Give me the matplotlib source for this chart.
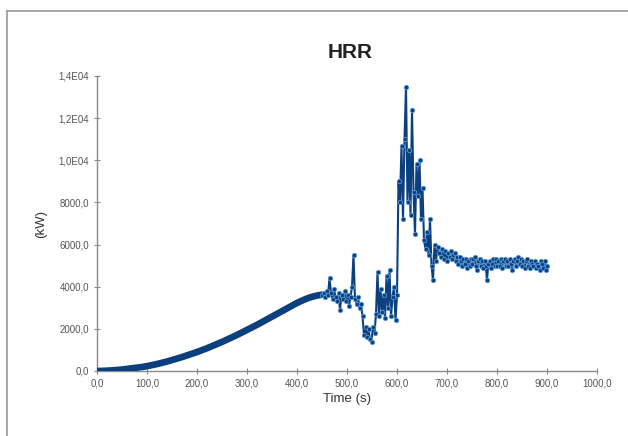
import matplotlib
matplotlib.use("Agg")
import matplotlib.pyplot as plt
from matplotlib.lines import Line2D
import numpy as np

plt.rcParams['font.family'] = ['Liberation Sans', 'DejaVu Sans']

# Growth phase (s, kW), sampled every 10 s
t_growth = list(range(0, 451, 10))
hrr_growth = [0, 5, 15, 30, 50, 70, 100, 130, 160, 190, 230, 280, 330, 390, 450, 520,
              590, 660, 740, 820, 900, 990, 1080, 1180, 1280, 1380, 1490, 1600, 1710, 1830,
              1950, 2070, 2190, 2320, 2450, 2580, 2710, 2840, 2970, 3100, 3230, 3340, 3440, 3520,
              3580, 3620]

# Fluctuating phase 1 (s, kW), sampled every 3 s from 450 to 699
t_fluct1 = list(range(450, 700, 3))
hrr_fluct1 = [3600, 3700, 3500, 3800, 3600, 4400, 3700, 3400, 3900, 3500, 3300, 3700, 2900, 3600, 3400,
              3800, 3300, 3600, 3100, 3500, 4000, 5500, 3400, 3200, 3500, 3000, 3200, 2600, 1700, 2100,
              1600, 2000, 1500, 1400, 2100, 1800, 2700, 4700, 2600, 3900, 2800, 3600, 2500, 4500, 3000,
              4800, 2600, 3500, 4000, 2400, 3600, 9000, 8000, 10700, 7200, 11000, 13500, 8000, 10500, 7400,
              12400, 8500, 6500, 9800, 8300, 10000, 7200, 8700, 6200, 5800, 6600, 5500, 7200, 5000, 4300,
              6000, 5200, 5900, 5600, 5400, 5800, 5300, 5700, 5200]

# Fluctuating phase 2 (s, kW), sampled every 2.5 s from 702.5 to 900
t_fluct2 = list(np.arange(702.5, 900.1, 2.5))
hrr_fluct2 = [5600, 5400, 5700, 5300, 5500, 5600, 5200, 5400, 5100, 5400, 5200, 5000, 5300, 5100, 5300,
              4900, 5200, 5000, 5300, 5100, 5300, 5400, 5000, 4800, 5200, 5300, 5000, 5200, 4900, 5200,
              5000, 4300, 5100, 5200, 4900, 5100, 5300, 5000, 5300, 5000, 5200, 5000, 5300, 4900, 5200,
              5300, 5000, 5200, 5000, 5300, 5100, 4800, 5200, 5300, 5000, 5200, 5400, 5100, 5300, 5000,
              5200, 4900, 5200, 5300, 5000, 4900, 5200, 5100, 5000, 5200, 4900, 5100, 5000, 4800, 5200,
              5100, 4900, 5200, 4800, 5000]

t_fluct = t_fluct1 + t_fluct2
hrr_fluct = hrr_fluct1 + hrr_fluct2

x_ticks = [0, 100, 200, 300, 400, 500, 600, 700, 800, 900, 1000]
x_ticklabels = ["0,0", "100,0", "200,0", "300,0", "400,0", "500,0", "600,0",
                "700,0", "800,0", "900,0", "1000,0"]
y_ticks = [0, 2000, 4000, 6000, 8000, 10000, 12000, 14000]
y_ticklabels = ["0,0", "2000,0", "4000,0", "6000,0", "8000,0", "1,0E04", "1,2E04", "1,4E04"]

fig = plt.figure(figsize=(6.28, 4.36), dpi=100)
ax = fig.add_axes([97/628, 1-371/436, 500/628, 295/436])

dark = '#0b3f7e'
light = '#5a9bd8'
ax.plot(t_growth, hrr_growth, color=dark, lw=4.8, solid_capstyle='round', zorder=3)
ax.plot(t_fluct, hrr_fluct, color=dark, lw=1.5, marker='o', ms=3.2,
        mfc=dark, mec=light, mew=0.6, zorder=3)

ax.set_xlim(0, 1000)
ax.set_ylim(0, 14000)
ax.set_xticks(x_ticks)
ax.set_xticklabels(x_ticklabels)
ax.set_yticks(y_ticks)
ax.set_yticklabels(y_ticklabels)

for s in ['top', 'right']:
    ax.spines[s].set_visible(False)
for s in ['left', 'bottom']:
    ax.spines[s].set_color('#8a8a8a')
    ax.spines[s].set_linewidth(1.0)
ax.tick_params(direction='inout', length=5, width=0.8, color='#8a8a8a',
               labelsize=7, labelcolor='#555555', pad=3)

ax.set_xlabel("Time (s)", fontsize=9.5, color='#333333', labelpad=3)
ax.set_ylabel("(kW)", fontsize=9.5, color='#333333', labelpad=8)
fig.text(350/628, 1-52/436, "HRR", ha='center', va='center', fontsize=15,
         fontweight='bold', color='#222222')

# outer border (left and top visible in the cropped reference)
fig.add_artist(Line2D([7/628, 7/628], [0, 1-11/436], transform=fig.transFigure,
                      color='#999999', lw=1.2))
fig.add_artist(Line2D([7/628, 1], [1-11/436, 1-11/436], transform=fig.transFigure,
                      color='#999999', lw=1.2))

fig.savefig("out.png", dpi=100)
